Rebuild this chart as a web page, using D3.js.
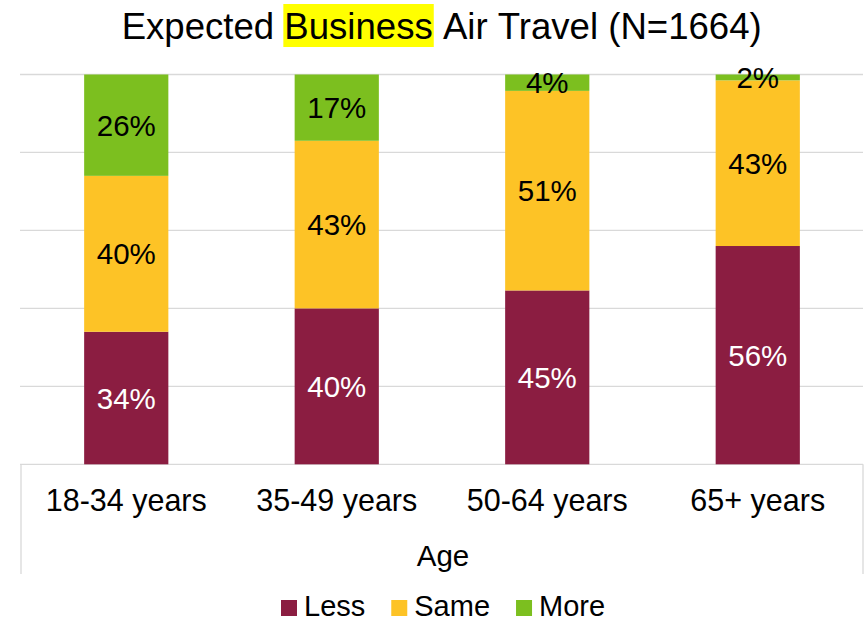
<!DOCTYPE html>
<html>
<head>
<meta charset="utf-8">
<script src="https://cdn.jsdelivr.net/npm/d3@7"></script>
<style>
  body { margin: 0; background: #fff; }
  svg { font-family: "Liberation Sans", Arial, sans-serif; }
</style>
</head>
<body>
<div id="chart"></div>
<script>
const ages = ["18-34 years", "35-49 years", "50-64 years", "65+ years"];
const lessVals = [34, 40, 44.6, 56.0];
const sameVals = [40, 43, 51.2, 42.5];
const moreVals = [26, 17, 4.2, 1.5];
const seriesNames = ["Less", "Same", "More"];
const seriesColors = ["#8B1D41", "#FDC326", "#7CBF1F"];
const yTicks = [0, 20, 40, 60, 80, 100];

const W = 867, H = 622;
const plot = { left: 21, right: 863, top: 74.5, bottom: 464.3 };

const svg = d3.select("#chart").append("svg")
  .attr("width", W)
  .attr("height", H);

const rows = ages.map((a, i) => ({ age: a, Less: lessVals[i], Same: sameVals[i], More: moreVals[i] }));
const stacked = d3.stack().keys(seriesNames)(rows);

const x = d3.scaleBand().domain(ages).range([plot.left, plot.right]).paddingInner(0.6).paddingOuter(0.3);
const y = d3.scaleLinear().domain([0, 100]).range([plot.bottom, plot.top]);
const color = d3.scaleOrdinal().domain(seriesNames).range(seriesColors);

// gridlines
svg.append("g").selectAll("line")
  .data(yTicks)
  .enter().append("line")
  .attr("x1", plot.left - 1)
  .attr("x2", plot.right)
  .attr("y1", d => y(d))
  .attr("y2", d => y(d))
  .attr("stroke", "#d9d9d9")
  .attr("stroke-width", 1.3);

// box sides below the axis
svg.append("line")
  .attr("x1", plot.left).attr("x2", plot.left)
  .attr("y1", plot.bottom).attr("y2", 574)
  .attr("stroke", "#d9d9d9").attr("stroke-width", 1.3);
svg.append("line")
  .attr("x1", plot.right).attr("x2", plot.right)
  .attr("y1", plot.bottom).attr("y2", 574)
  .attr("stroke", "#d9d9d9").attr("stroke-width", 1.3);

// bars
const layer = svg.append("g").selectAll("g")
  .data(stacked)
  .enter().append("g")
  .attr("fill", d => color(d.key));

layer.selectAll("rect")
  .data(d => d)
  .enter().append("rect")
  .attr("x", d => x(d.data.age))
  .attr("width", x.bandwidth())
  .attr("y", d => y(d[1]))
  .attr("height", d => y(d[0]) - y(d[1]));

// value labels
stacked.forEach(s => {
  svg.append("g").selectAll("text")
    .data(s)
    .enter().append("text")
    .attr("x", d => x(d.data.age) + x.bandwidth() / 2)
    .attr("y", d => (y(d[0]) + y(d[1])) / 2)
    .attr("dy", "0.36em")
    .attr("text-anchor", "middle")
    .attr("font-size", "29.5px")
    .attr("fill", s.key === "Less" ? "#fff" : "#000")
    .text(d => Math.round(d[1] - d[0]) + "%");
});

// x axis labels
svg.append("g").selectAll("text")
  .data(ages)
  .enter().append("text")
  .attr("x", d => x(d) + x.bandwidth() / 2)
  .attr("y", 511)
  .attr("text-anchor", "middle")
  .attr("font-size", "30.5px")
  .text(d => d);

svg.append("text")
  .attr("x", 443)
  .attr("y", 566)
  .attr("text-anchor", "middle")
  .attr("font-size", "29.5px")
  .text("Age");

// title with highlighted word
const titleParts = ["Expected ", "Business", " Air Travel (N=1664)"];
const titleSize = 36.6;
const tmp = svg.append("text").attr("font-size", titleSize + "px");
const widths = titleParts.map(p => {
  tmp.text(p.replace(/ /g, "\u00a0"));
  return tmp.node().getComputedTextLength();
});
tmp.remove();
const titleW = d3.sum(widths);
const titleX = 441.7 - titleW / 2;
const titleBase = 38.5;

svg.append("rect")
  .attr("x", titleX + widths[0] - 1)
  .attr("y", 4)
  .attr("width", widths[1] + 2)
  .attr("height", 43)
  .attr("fill", "#ffff00");

const title = svg.append("text")
  .attr("x", titleX)
  .attr("y", titleBase)
  .attr("font-size", titleSize + "px");
titleParts.forEach(p => title.append("tspan").text(p.replace(/ /g, "\u00a0")));

// legend
const legend = svg.append("g");
let lx = 281;
seriesNames.forEach(name => {
  legend.append("rect")
    .attr("x", lx).attr("y", 600)
    .attr("width", 16).attr("height", 16)
    .attr("fill", color(name));
  const t = legend.append("text")
    .attr("x", lx + 23)
    .attr("y", 616)
    .attr("font-size", "29px")
    .text(name);
  lx += 23 + t.node().getComputedTextLength() + 26;
});
</script>
</body>
</html>
